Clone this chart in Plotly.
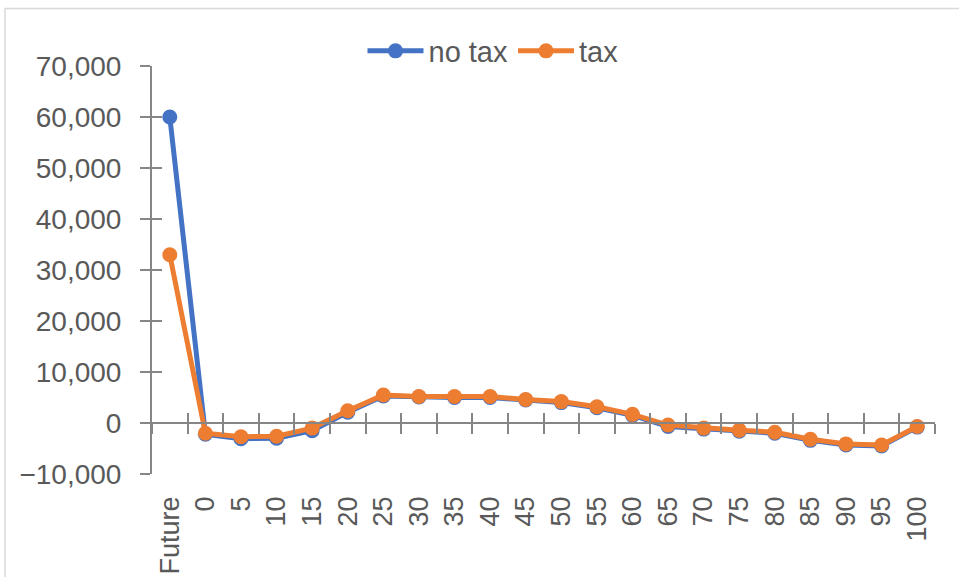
import plotly.graph_objects as go

categories = ["Future", "0", "5", "10", "15", "20", "25", "30", "35", "40", "45",
              "50", "55", "60", "65", "70", "75", "80", "85", "90", "95", "100"]
no_tax = [60000, -2200, -3100, -3000, -1500, 2100, 5300, 5100, 5000, 5000, 4500,
          4000, 3000, 1500, -700, -1200, -1600, -2000, -3400, -4300, -4500, -800]
tax = [33000, -2000, -2700, -2600, -1000, 2400, 5500, 5200, 5200, 5200, 4600,
       4200, 3200, 1700, -400, -1000, -1400, -1800, -3200, -4100, -4300, -700]
y_ticks = [-10000, 0, 10000, 20000, 30000, 40000, 50000, 60000, 70000]

BLUE = "#4472C4"
ORANGE = "#ED7D31"
GRAY = "#868686"
TXT = "#595959"
FONT = "Liberation Sans"

W, H = 959, 577
L, R, T, B = 152, 24, 66, 103
ph = H - T - B
pw = W - L - R
zero_pos = (0 - y_ticks[0]) / (y_ticks[-1] - y_ticks[0])

fig = go.Figure()
fig.add_trace(go.Scatter(x=categories, y=no_tax, name="no tax", mode="lines+markers",
                         line=dict(color=BLUE, width=5), marker=dict(size=15, color=BLUE)))
fig.add_trace(go.Scatter(x=categories, y=tax, name="tax", mode="lines+markers",
                         line=dict(color=ORANGE, width=5), marker=dict(size=15, color=ORANGE)))
# invisible helpers to carry the zero-line category axes
for xa in ("x2", "x3"):
    fig.add_trace(go.Scatter(x=categories, y=tax, xaxis=xa, yaxis="y", mode="lines",
                             opacity=0, showlegend=False, hoverinfo="skip"))
fig.add_trace(go.Scatter(x=categories, y=tax, yaxis="y2", mode="lines", opacity=0,
                         showlegend=False, hoverinfo="skip"))

common_x = dict(type="category", categoryorder="array", categoryarray=categories,
                range=[-0.5, len(categories) - 0.5], showgrid=False, zeroline=False,
                automargin=False)

fig.update_layout(
    width=W, height=H,
    margin=dict(l=L, r=R, t=T, b=B, autoexpand=False),
    paper_bgcolor="white", plot_bgcolor="white",
    font=dict(family=FONT, color=TXT, size=27),
    showlegend=True,
    legend=dict(orientation="h", x=(493 - L) / pw, xanchor="center",
                y=1 + (T - 51) / ph, yanchor="middle",
                font=dict(size=29, color=TXT, family=FONT), bgcolor="rgba(0,0,0,0)",
                itemwidth=56, traceorder="normal"),
    xaxis=dict(**common_x, showline=False, ticks="", tickangle=-90,
               tickfont=dict(size=27, color=TXT, family=FONT), ticklabelstandoff=16),
    xaxis2=dict(**common_x, overlaying="x", anchor="free", position=zero_pos, matches="x",
                showticklabels=False, showline=True, linecolor=GRAY, linewidth=2,
                ticks="outside", tickson="boundaries", ticklen=10, tickwidth=2, tickcolor=GRAY),
    xaxis3=dict(**common_x, overlaying="x", anchor="free", position=zero_pos, matches="x",
                showticklabels=False, showline=False,
                ticks="inside", tickson="boundaries", ticklen=10, tickwidth=2, tickcolor=GRAY),
    yaxis=dict(range=[y_ticks[0], y_ticks[-1]], tickvals=y_ticks, tickformat=",",
               showgrid=False, zeroline=False, showline=True, linecolor=GRAY, linewidth=2,
               ticks="outside", ticklen=10, tickwidth=2, tickcolor=GRAY, automargin=False,
               tickfont=dict(size=28, color=TXT, family=FONT), ticklabelstandoff=13),
    yaxis2=dict(range=[y_ticks[0], y_ticks[-1]], tickvals=y_ticks, overlaying="y", matches="y",
                showticklabels=False, showgrid=False, zeroline=False, showline=False,
                ticks="inside", ticklen=10, tickwidth=2, tickcolor=GRAY, automargin=False),
)

# chart-area border (light gray), partially off-canvas like the reference
bx = (5 - L) / pw
by = 1 + (T - 8.5) / ph
fig.add_shape(type="line", xref="paper", yref="paper", x0=bx, x1=2, y0=by, y1=by,
              line=dict(color="#D9D9D9", width=1.5), layer="below")
fig.add_shape(type="line", xref="paper", yref="paper", x0=bx, x1=bx, y0=by, y1=-1,
              line=dict(color="#D9D9D9", width=1.5), layer="below")

fig.write_html("out.html", config={"displayModeBar": False},
               post_script="document.body.style.margin='0';document.body.style.overflow='hidden';")
